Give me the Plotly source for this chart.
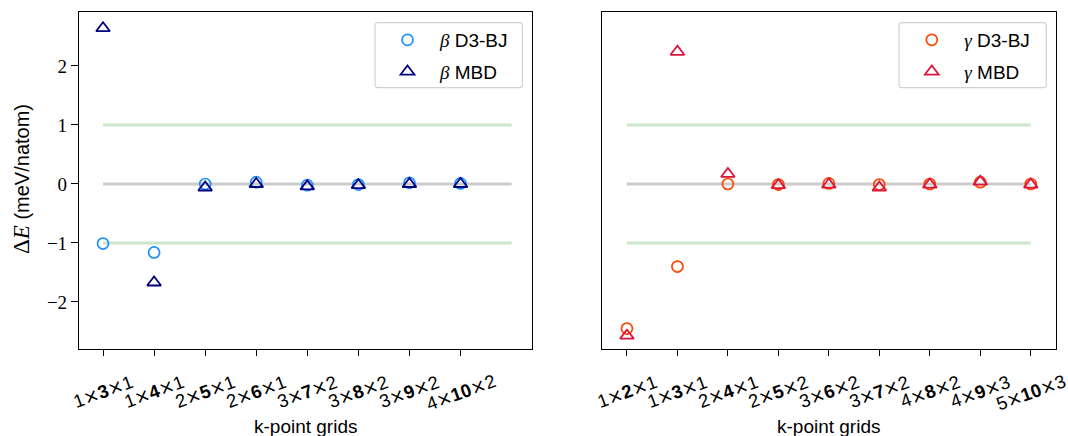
import plotly.graph_objects as go

# k-point grid labels (middle index in bold)
beta_grids = ["1×3×1", "1×4×1", "2×5×1", "2×6×1", "3×7×2", "3×8×2", "3×9×2", "4×10×2"]
gamma_grids = ["1×2×1", "1×3×1", "2×4×1", "2×5×2", "3×6×2", "3×7×2", "4×8×2", "4×9×3", "5×10×3"]

# Energy differences (meV/natom) relative to the converged grid
beta_d3bj = [-1.01, -1.16, 0.00, 0.03, -0.02, -0.01, 0.02, 0.01]
beta_mbd = [2.64, -1.67, -0.06, 0.00, -0.04, -0.02, 0.00, 0.00]
gamma_d3bj = [-2.45, -1.40, 0.00, -0.01, 0.01, -0.01, 0.00, 0.03, 0.00]
gamma_mbd = [-2.57, 2.24, 0.17, -0.02, -0.01, -0.06, -0.01, 0.04, -0.01]

# Reference bands
band_x = [0, 8]
tolerance = [1.0, -1.0]
zero_level = 0.0

y_ticks = [-2, -1, 0, 1, 2]

SANS = "Liberation Sans"
SERIF = "Liberation Serif"
FS = 19

W, H = 1068, 436
ML, MR, MT, MB = 79, 12, 12, 87
PW, PH = W - ML - MR, H - MT - MB


def px_to_paper_y(py):
    return (H - MB - py) / PH


def fmt_grid(label):
    a, b, c = label.split("×")
    times = "<span style='font-family:DejaVu Sans'>×</span>"
    return f"{a}{times}<b>{b}</b>{times}{c}"


def greek(letter, rest):
    return f"<span style='font-family:{SERIF};font-style:italic'>{letter}</span> {rest}"


fig = go.Figure()

panels = [
    ("x", "y", beta_grids, beta_d3bj, beta_mbd, "β", "legend"),
    ("x2", "y2", gamma_grids, gamma_d3bj, gamma_mbd, "γ", "legend2"),
]
colors = {
    "β": ("#1E90FF", "#000080"),
    "γ": ("#FF4500", "#DC143C"),
}

for xa, ya, grids, d3, mbd, letter, leg in panels:
    for level in tolerance:
        fig.add_trace(go.Scatter(
            x=band_x, y=[level, level], mode="lines",
            line=dict(color="rgb(204,230,204)", width=3),
            xaxis=xa, yaxis=ya, showlegend=False, hoverinfo="skip"))
    fig.add_trace(go.Scatter(
        x=band_x, y=[zero_level, zero_level], mode="lines",
        line=dict(color="rgb(204,204,204)", width=3),
        xaxis=xa, yaxis=ya, showlegend=False, hoverinfo="skip"))
    c_d3, c_mbd = colors[letter]
    idx = list(range(len(grids)))
    fig.add_trace(go.Scatter(
        x=idx, y=d3, mode="markers", name=greek(letter, "D3-BJ"),
        marker=dict(symbol="circle-open", size=11, color=c_d3, line=dict(width=1.7, color=c_d3)),
        xaxis=xa, yaxis=ya, legend=leg, legendgroup=letter + "d3"))
    fig.add_trace(go.Scatter(
        x=idx, y=mbd, mode="markers", name=greek(letter, "MBD"),
        marker=dict(symbol="triangle-up-open", size=12, color=c_mbd, line=dict(width=1.8, color=c_mbd)),
        xaxis=xa, yaxis=ya, legend=leg, legendgroup=letter + "mbd"))

    # rotated tick labels centred under each tick
    for i, g in enumerate(grids):
        fig.add_annotation(
            x=i, xref=xa, y=px_to_paper_y(368), yref="paper",
            text=fmt_grid(g), showarrow=False, textangle=-20,
            xanchor="center", yanchor="top",
            font=dict(family=SANS, size=18.5, color="black"))
    fig.add_annotation(
        x=0.5, xref=f"{xa} domain", y=px_to_paper_y(426), yref="paper",
        text="k-point grids", showarrow=False, xanchor="center", yanchor="middle",
        font=dict(family=SANS, size=FS, color="black"))

    # rounded legend frame
    fig.add_shape(
        type="path", xref=f"{xa} domain", yref="paper",
        xsizemode="pixel", ysizemode="pixel", xanchor=1, yanchor=1,
        path="M -154,-10.7 L -12.7,-10.7 Q -9.7,-10.7 -9.7,-13.7 L -9.7,-72.7 Q -9.7,-75.7 -12.7,-75.7 "
             "L -154,-75.7 Q -157,-75.7 -157,-72.7 L -157,-13.7 Q -157,-10.7 -154,-10.7 Z",
        line=dict(color="rgb(210,210,210)", width=1.2), fillcolor="rgba(255,255,255,0.8)", layer="above")

fig.add_annotation(
    x=(21 - ML) / PW, xref="paper", y=px_to_paper_y(179), yref="paper",
    text=f"<span style='font-family:{SERIF};font-size:23px'>Δ<i>E</i></span> (meV/natom)",
    showarrow=False, textangle=-90, xanchor="center", yanchor="middle",
    font=dict(family=SANS, size=20, color="black"))

axis_common = dict(showline=True, mirror=True, linecolor="black", linewidth=1.2,
                   showgrid=False, zeroline=False)
yrange = [-2.797, 2.915]

legend_common = dict(
    bgcolor="rgba(0,0,0,0)", borderwidth=0, itemwidth=55, tracegroupgap=4,
    font=dict(family=SANS, size=FS, color="black"),
    xanchor="left", yanchor="top", itemclick=False, itemdoubleclick=False)

fig.update_layout(
    width=W, height=H,
    margin=dict(l=ML, r=MR, t=MT, b=MB, autoexpand=False),
    plot_bgcolor="white", paper_bgcolor="white",
    xaxis=dict(domain=[0, 0.4637], range=[-0.47, 8.4], tickvals=list(range(len(beta_grids))),
               showticklabels=False, ticks="outside", ticklen=6, tickwidth=1.2, tickcolor="black",
               anchor="y", **axis_common),
    xaxis2=dict(domain=[0.535, 1], range=[-0.5, 8.5], tickvals=list(range(len(gamma_grids))),
                showticklabels=False, ticks="outside", ticklen=6, tickwidth=1.2, tickcolor="black",
                anchor="y2", **axis_common),
    yaxis=dict(range=yrange, tickvals=y_ticks, ticks="outside", ticklen=7, tickwidth=1.2,
               tickcolor="black", tickfont=dict(family=SERIF, size=19, color="black"),
               anchor="x", **axis_common),
    yaxis2=dict(range=yrange, matches="y", showticklabels=False, ticks="",
                anchor="x2", **axis_common),
    legend=dict(x=(375 - ML) / PW, y=px_to_paper_y(21), **legend_common),
    legend2=dict(x=(899.3 - ML) / PW, y=px_to_paper_y(21), **legend_common),
    showlegend=True,
)

fig.write_html("out.html")
